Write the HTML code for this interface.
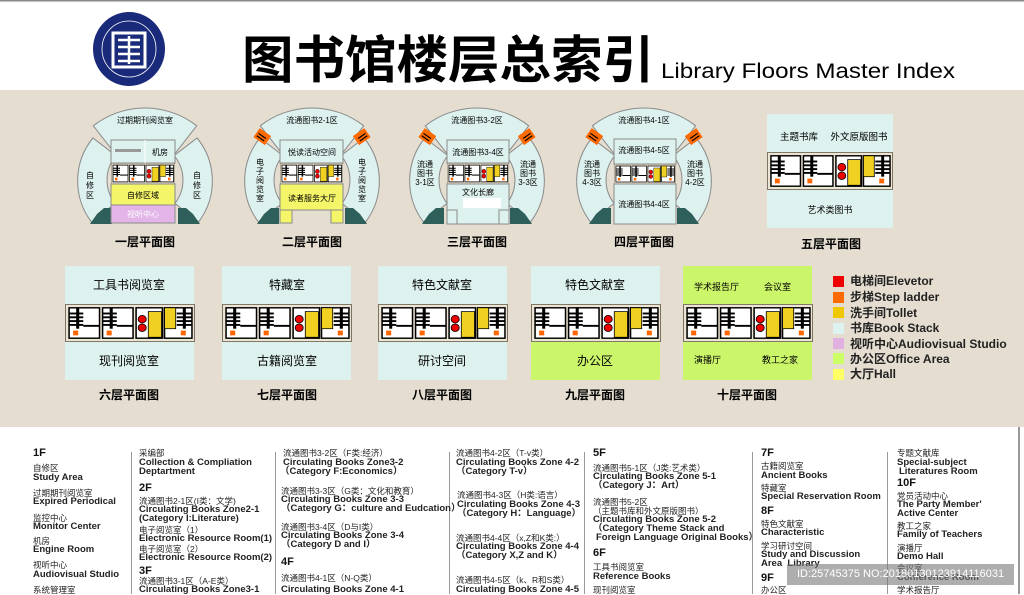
<!DOCTYPE html>
<html><head><meta charset="utf-8">
<style>
*{margin:0;padding:0}
body{width:1024px;height:594px;overflow:hidden;background:#fff;position:relative;font-family:"Liberation Sans","Noto Sans CJK SC",sans-serif}
svg text{font-family:"Liberation Sans","Noto Sans CJK SC",sans-serif}
.t{position:absolute;white-space:nowrap;font-size:8.5px;color:#222;line-height:10px}
.e{position:absolute;white-space:nowrap;font-size:9.5px;font-weight:bold;color:#222;line-height:10px}
.h{position:absolute;white-space:nowrap;font-size:11px;font-weight:bold;color:#111;line-height:11px}
.d{position:absolute;width:1px;background:#999;top:452px;height:142px}
</style></head><body>
<svg width="1024" height="594" style="position:absolute;left:0;top:0">
<defs>
<symbol id="core" viewBox="0 0 128 40" preserveAspectRatio="none">
<rect x="0.5" y="0.5" width="127" height="39" fill="#ede5d3" stroke="#7a7262"/>
<g>
<rect x="4" y="4" width="30" height="32" fill="#fff" stroke="#000" stroke-width="1.5"/>
<rect x="4" y="9" width="14" height="2" fill="#000"/><rect x="4" y="13" width="14" height="2" fill="#000"/><rect x="4" y="17" width="14" height="2" fill="#000"/><rect x="4" y="21" width="14" height="2" fill="#000"/>
<rect x="11" y="4" width="3" height="22" fill="#000"/><rect x="18" y="22" width="16" height="2" fill="#000"/>
<rect x="8" y="28" width="5" height="5" fill="#ff6600"/>
</g>
<g transform="translate(33,0)">
<rect x="4" y="4" width="30" height="32" fill="#fff" stroke="#000" stroke-width="1.5"/>
<rect x="4" y="9" width="14" height="2" fill="#000"/><rect x="4" y="13" width="14" height="2" fill="#000"/><rect x="4" y="17" width="14" height="2" fill="#000"/><rect x="4" y="21" width="14" height="2" fill="#000"/>
<rect x="11" y="4" width="3" height="22" fill="#000"/><rect x="18" y="22" width="16" height="2" fill="#000"/>
<rect x="8" y="28" width="5" height="5" fill="#ff6600"/>
</g>
<rect x="70" y="4" width="26" height="32" fill="#fff" stroke="#000" stroke-width="1.5"/>
<circle cx="76" cy="16" r="4" fill="#e00" stroke="#000" stroke-width=".8"/>
<circle cx="76" cy="25" r="4" fill="#e00" stroke="#000" stroke-width=".8"/>
<rect x="82" y="8" width="13" height="27" fill="#f0d020" stroke="#000" stroke-width=".8"/>
<rect x="98" y="4" width="27" height="32" fill="#fff" stroke="#000" stroke-width="1.5"/>
<rect x="98" y="4" width="11" height="22" fill="#f0d020" stroke="#000" stroke-width=".8"/>
<rect x="110" y="9" width="15" height="2" fill="#000"/><rect x="110" y="13" width="15" height="2" fill="#000"/><rect x="110" y="17" width="15" height="2" fill="#000"/><rect x="110" y="21" width="15" height="2" fill="#000"/>
<rect x="116" y="4" width="3" height="22" fill="#000"/>
<rect x="114" y="28" width="5" height="5" fill="#ff6600"/>
</symbol>
<g id="arcs">
<path d="M-51.7,125.8 A84,84 0 0 1 51.7,125.8 L30.8,152.6 A50,50 0 0 0 -30.8,152.6 Z" fill="#ddf1ef" stroke="#8a8a8a"/>
<path d="M-52.1,138 A68,68 0 0 0 -53.6,221.9 L-29.9,203.4 A38,38 0 0 1 -29.1,155.6 Z" fill="#ddf1ef" stroke="#8a8a8a"/>
<path d="M52.1,138 A68,68 0 0 1 53.6,221.9 L29.9,203.4 A38,38 0 0 0 29.1,155.6 Z" fill="#ddf1ef" stroke="#8a8a8a"/>
<polygon points="-41,208 -33,208 -33,224 -55,224 -48,214" fill="#2f5f5a"/>
<polygon points="41,208 33,208 33,224 55,224 48,214" fill="#2f5f5a"/>
</g>
<g id="stairs">
<g transform="translate(-50,137) rotate(35)"><rect x="-7" y="-6" width="14" height="11" fill="#ff6a00"/><path d="M-5,-1 h9 M-5,2 h9" stroke="#000" stroke-width="1.2"/></g>
<g transform="translate(50,137) rotate(-35)"><rect x="-7" y="-6" width="14" height="11" fill="#ff6a00"/><path d="M-4,-1 h9 M-4,2 h9" stroke="#000" stroke-width="1.2"/></g>
</g>
</defs>
<rect x="0" y="0" width="1024" height="1.5" fill="#888"/>
<rect x="0" y="90" width="1024" height="337" fill="#e4ddd0"/>
<!-- logo -->
<ellipse cx="129" cy="49" rx="36" ry="37" fill="#1a2a7a"/>
<ellipse cx="129" cy="49" rx="27" ry="28" fill="none" stroke="#fff" stroke-width=".8"/>
<rect x="113" y="33" width="32" height="34" fill="none" stroke="#fff" stroke-width="3"/>
<path d="M118,40 h22 M118,47 h22 M118,54 h22 M118,61 h22 M129,36 v28" stroke="#fff" stroke-width="2.5"/>
<text x="242" y="78" font-size="51" font-weight="bold" fill="#000" textLength="412" lengthAdjust="spacingAndGlyphs">图书馆楼层总索引</text>
<text x="661" y="78" font-size="21" fill="#000" textLength="294" lengthAdjust="spacingAndGlyphs">Library Floors Master Index</text>

<!-- floor 1 -->
<g transform="translate(145,0)">
<use href="#arcs"/>
<rect x="-34" y="140" width="64" height="23" fill="#ddf1ef" stroke="#8a8a8a"/>
<rect x="-30" y="149" width="26" height="3" fill="#999"/>
<line x1="0" y1="140" x2="0" y2="163" stroke="#fff"/>
<use href="#core" x="-34" y="163" width="64" height="21"/>
<rect x="-34" y="184" width="64" height="21" fill="#f5f56a" stroke="#8a8a8a"/>
<rect x="-34" y="205" width="64" height="18" fill="#e2b4e8" stroke="#8a8a8a"/>
<text x="0" y="123" font-size="8" text-anchor="middle">过期期刊阅览室</text>
<text x="15" y="155" font-size="8" text-anchor="middle">机房</text>
<text x="-2" y="198" font-size="8" text-anchor="middle">自修区域</text>
<text x="-2" y="217" font-size="8" text-anchor="middle" fill="#fff">视听中心</text>
<text x="-55" y="178" font-size="8" text-anchor="middle">自</text><text x="-55" y="188" font-size="8" text-anchor="middle">修</text><text x="-55" y="198" font-size="8" text-anchor="middle">区</text>
<text x="52" y="178" font-size="8" text-anchor="middle">自</text><text x="52" y="188" font-size="8" text-anchor="middle">修</text><text x="52" y="198" font-size="8" text-anchor="middle">区</text>
<text x="0" y="246" font-size="12" font-weight="bold" text-anchor="middle">一层平面图</text>
</g>
<!-- floor 2 -->
<g transform="translate(312,0)">
<use href="#arcs"/><use href="#stairs"/>
<rect x="-32" y="140" width="63" height="23" fill="#ddf1ef" stroke="#8a8a8a"/>
<use href="#core" x="-32" y="163" width="63" height="21"/>
<rect x="-32" y="184" width="63" height="26" fill="#f5f56a" stroke="#8a8a8a"/>
<rect x="-32" y="210" width="12" height="13" fill="#f5f56a" stroke="#8a8a8a"/>
<rect x="19" y="210" width="12" height="13" fill="#f5f56a" stroke="#8a8a8a"/>
<text x="0" y="123" font-size="8" text-anchor="middle">流通图书2-1区</text>
<text x="0" y="155" font-size="8" text-anchor="middle">悦读活动空间</text>
<text x="0" y="201" font-size="8" text-anchor="middle">读者服务大厅</text>
<g font-size="8" text-anchor="middle"><text x="-52" y="165">电</text><text x="-52" y="174">子</text><text x="-52" y="183">阅</text><text x="-52" y="192">览</text><text x="-52" y="201">室</text>
<text x="50" y="165">电</text><text x="50" y="174">子</text><text x="50" y="183">阅</text><text x="50" y="192">览</text><text x="50" y="201">室</text></g>
<text x="0" y="246" font-size="12" font-weight="bold" text-anchor="middle">二层平面图</text>
</g>
<!-- floor 3 -->
<g transform="translate(477,0)">
<use href="#arcs"/><use href="#stairs"/>
<rect x="-30" y="140" width="62" height="23" fill="#ddf1ef" stroke="#8a8a8a"/>
<use href="#core" x="-30" y="163" width="62" height="21"/>
<rect x="-30" y="184" width="62" height="40" fill="#ddf1ef" stroke="#8a8a8a"/>
<rect x="-14" y="198" width="38" height="10" fill="#fff"/>
<rect x="-30" y="210" width="10" height="14" fill="#ddf1ef" stroke="#8a8a8a"/><rect x="22" y="210" width="10" height="14" fill="#ddf1ef" stroke="#8a8a8a"/>
<text x="0" y="123" font-size="8" text-anchor="middle">流通图书3-2区</text>
<text x="1" y="155" font-size="8" text-anchor="middle">流通图书3-4区</text>
<text x="1" y="195" font-size="8" text-anchor="middle">文化长廊</text>
<g font-size="8" text-anchor="middle"><text x="-52" y="167">流通</text><text x="-52" y="176">图书</text><text x="-52" y="185">3-1区</text>
<text x="51" y="167">流通</text><text x="51" y="176">图书</text><text x="51" y="185">3-3区</text></g>
<text x="0" y="246" font-size="12" font-weight="bold" text-anchor="middle">三层平面图</text>
</g>
<!-- floor 4 -->
<g transform="translate(644,0)">
<use href="#arcs"/><use href="#stairs"/>
<rect x="-30" y="139" width="62" height="25" fill="#ddf1ef" stroke="#8a8a8a"/>
<use href="#core" x="-30" y="164" width="62" height="20"/>
<rect x="-30" y="184" width="62" height="40" fill="#ddf1ef" stroke="#8a8a8a"/>
<text x="0" y="123" font-size="8" text-anchor="middle">流通图书4-1区</text>
<text x="0" y="153" font-size="8" text-anchor="middle">流通图书4-5区</text>
<text x="0" y="207" font-size="8" text-anchor="middle">流通图书4-4区</text>
<g font-size="8" text-anchor="middle"><text x="-52" y="167">流通</text><text x="-52" y="176">图书</text><text x="-52" y="185">4-3区</text>
<text x="51" y="167">流通</text><text x="51" y="176">图书</text><text x="51" y="185">4-2区</text></g>
<text x="0" y="246" font-size="12" font-weight="bold" text-anchor="middle">四层平面图</text>
</g>
<!-- floor 5 -->
<rect x="767" y="114" width="126" height="114" fill="#ddf1ef"/>
<use href="#core" x="767" y="152" width="126" height="38"/>
<text x="799" y="140" font-size="9.5" text-anchor="middle">主题书库</text>
<text x="859" y="140" font-size="9.5" text-anchor="middle">外文原版图书</text>
<text x="830" y="213" font-size="9" text-anchor="middle">艺术类图书</text>
<text x="831" y="248" font-size="12" font-weight="bold" text-anchor="middle">五层平面图</text>

<!-- row 2 -->
<g font-size="12" text-anchor="middle">
<rect x="65" y="266" width="129" height="114" fill="#ddf1ef"/>
<use href="#core" x="65" y="304" width="130" height="38"/>
<text x="129" y="289">工具书阅览室</text><text x="129" y="365">现刊阅览室</text>
<text x="129" y="399" font-weight="bold">六层平面图</text>

<rect x="222" y="266" width="129" height="114" fill="#ddf1ef"/>
<use href="#core" x="222" y="304" width="130" height="38"/>
<text x="287" y="289">特藏室</text><text x="287" y="365">古籍阅览室</text>
<text x="287" y="399" font-weight="bold">七层平面图</text>

<rect x="378" y="266" width="129" height="114" fill="#ddf1ef"/>
<use href="#core" x="378" y="304" width="130" height="38"/>
<text x="442" y="289">特色文献室</text><text x="442" y="365">研讨空间</text>
<text x="442" y="399" font-weight="bold">八层平面图</text>

<rect x="531" y="266" width="129" height="38" fill="#ddf1ef"/>
<rect x="531" y="342" width="129" height="38" fill="#ccf66a"/>
<use href="#core" x="531" y="304" width="130" height="38"/>
<text x="595" y="289">特色文献室</text><text x="595" y="365">办公区</text>
<text x="595" y="399" font-weight="bold">九层平面图</text>

<rect x="683" y="266" width="129" height="114" fill="#ccf66a"/>
<use href="#core" x="683" y="304" width="130" height="38"/>
<text x="747" y="399" font-weight="bold">十层平面图</text>
</g>
<g font-size="9">
<text x="694" y="290">学术报告厅</text><text x="764" y="290">会议室</text>
<text x="694" y="363">演播厅</text><text x="762" y="363">教工之家</text>
</g>
<!-- legend -->
<g font-size="12" font-weight="bold" fill="#222">
<rect x="833" y="276" width="11" height="11" fill="#ee0000"/><text x="850" y="285">电梯间Elevetor</text>
<rect x="833" y="292" width="11" height="11" fill="#ff6a00"/><text x="850" y="301">步梯Step ladder</text>
<rect x="833" y="307" width="11" height="11" fill="#f0c800"/><text x="850" y="317">洗手间Tollet</text>
<rect x="833" y="323" width="11" height="11" fill="#ddf3f1"/><text x="850" y="332">书库Book Stack</text>
<rect x="833" y="338" width="11" height="11" fill="#e0b0e0"/><text x="850" y="348">视听中心Audiovisual Studio</text>
<rect x="833" y="353" width="11" height="11" fill="#ccff66"/><text x="850" y="363">办公区Office Area</text>
<rect x="833" y="369" width="11" height="11" fill="#ffff66"/><text x="850" y="378">大厅Hall</text>
</g>
<rect x="1018" y="427" width="2" height="167" fill="#999"/>
</svg>

<div class="d" style="left:131px"></div><div class="d" style="left:275px"></div><div class="d" style="left:449px"></div><div class="d" style="left:584px"></div><div class="d" style="left:752px"></div><div class="d" style="left:887px"></div>

<!-- col1 -->
<div class="h" style="left:33px;top:448px">1F</div>
<div class="t" style="left:33px;top:463px">自修区</div><div class="e" style="left:33px;top:473px">Study Area</div>
<div class="t" style="left:33px;top:488px">过期期刊阅览室</div><div class="e" style="left:33px;top:497px">Expired Periodical</div>
<div class="t" style="left:33px;top:513px">监控中心</div><div class="e" style="left:33px;top:522px">Monitor Center</div>
<div class="t" style="left:33px;top:536px">机房</div><div class="e" style="left:33px;top:545px">Engine Room</div>
<div class="t" style="left:33px;top:560px">视听中心</div><div class="e" style="left:33px;top:570px">Audiovisual Studio</div>
<div class="t" style="left:33px;top:585px">系统管理室</div>
<!-- col2 -->
<div class="t" style="left:139px;top:448px">采编部</div>
<div class="e" style="left:139px;top:458px">Collection &amp; Compliation</div><div class="e" style="left:139px;top:467px">Deptartment</div>
<div class="h" style="left:139px;top:483px">2F</div>
<div class="t" style="left:139px;top:496px">流通图书2-1区(I类：文学)</div>
<div class="e" style="left:139px;top:505px">Circulating Books Zone2-1</div>
<div class="e" style="left:139px;top:514px">(Category I:Literature)</div>
<div class="t" style="left:139px;top:525px">电子阅览室（1）</div><div class="e" style="left:139px;top:534px">Electronic Resource Room(1)</div>
<div class="t" style="left:139px;top:544px">电子阅览室（2）</div><div class="e" style="left:139px;top:553px">Electronic Resource Room(2)</div>
<div class="h" style="left:139px;top:566px">3F</div>
<div class="t" style="left:139px;top:576px">流通图书3-1区（A-E类）</div><div class="e" style="left:139px;top:585px">Circulating Books Zone3-1</div>
<!-- col3 -->
<div class="t" style="left:283px;top:448px">流通图书3-2区（F类:经济）</div>
<div class="e" style="left:283px;top:458px">Circulating Books Zone3-2</div><div class="e" style="left:280px;top:467px">（Category F:Economics）</div>
<div class="t" style="left:281px;top:486px">流通图书3-3区（G类：文化和教育）</div>
<div class="e" style="left:281px;top:495px">Circulating Books Zone 3-3</div><div class="e" style="left:281px;top:504px">（Category G：culture and Eudcation）</div>
<div class="t" style="left:281px;top:522px">流通图书3-4区（D与I类）</div>
<div class="e" style="left:281px;top:531px">Circulating Books Zone 3-4</div><div class="e" style="left:281px;top:540px">（Category D and I）</div>
<div class="h" style="left:281px;top:557px">4F</div>
<div class="t" style="left:281px;top:573px">流通图书4-1区（N-Q类）</div><div class="e" style="left:281px;top:585px">Circulating Books Zone 4-1</div>
<!-- col4 -->
<div class="t" style="left:456px;top:448px">流通图书4-2区（T-v类）</div>
<div class="e" style="left:456px;top:458px">Circulating Books Zone 4-2</div><div class="e" style="left:456px;top:467px">（Category T-v）</div>
<div class="t" style="left:457px;top:490px">流通图书4-3区（H类:语言）</div>
<div class="e" style="left:457px;top:500px">Circulating Books Zone 4-3</div><div class="e" style="left:457px;top:509px">（Category H：Language）</div>
<div class="t" style="left:456px;top:533px">流通图书4-4区（x,Z和K类:）</div>
<div class="e" style="left:456px;top:542px">Circulating Books Zone 4-4</div><div class="e" style="left:456px;top:551px">（Category X,Z and K）</div>
<div class="t" style="left:456px;top:575px">流通图书4-5区（k、R和S类）</div><div class="e" style="left:456px;top:585px">Circulating Books Zone 4-5</div>
<!-- col5 -->
<div class="h" style="left:593px;top:448px">5F</div>
<div class="t" style="left:593px;top:463px">流通图书5-1区（J类:艺术类）</div>
<div class="e" style="left:593px;top:472px">Circulating Books Zone 5-1</div><div class="e" style="left:593px;top:481px">（Category J：Art）</div>
<div class="t" style="left:593px;top:497px">流通图书5-2区</div>
<div class="t" style="left:593px;top:506px">（主题书库和外文原版图书）</div>
<div class="e" style="left:593px;top:515px">Circulating Books Zone 5-2</div>
<div class="e" style="left:593px;top:524px">（Category Theme Stack and</div>
<div class="e" style="left:596px;top:533px">Foreign Language Original Books）</div>
<div class="h" style="left:593px;top:548px">6F</div>
<div class="t" style="left:593px;top:562px">工具书阅览室</div><div class="e" style="left:593px;top:572px">Reference Books</div>
<div class="t" style="left:593px;top:585px">现刊阅览室</div>
<!-- col6 -->
<div class="h" style="left:761px;top:448px">7F</div>
<div class="t" style="left:761px;top:461px">古籍阅览室</div><div class="e" style="left:761px;top:471px">Ancient Books</div>
<div class="t" style="left:761px;top:483px">特藏室</div><div class="e" style="left:761px;top:492px">Special Reservation Room</div>
<div class="h" style="left:761px;top:506px">8F</div>
<div class="t" style="left:761px;top:519px">特色文献室</div><div class="e" style="left:761px;top:528px">Characteristic</div>
<div class="t" style="left:761px;top:541px">学习研讨空间</div><div class="e" style="left:761px;top:550px">Study and Discussion</div><div class="e" style="left:761px;top:559px">Area&nbsp; Library</div>
<div class="h" style="left:761px;top:573px">9F</div>
<div class="t" style="left:761px;top:585px">办公区</div>
<!-- col7 -->
<div class="t" style="left:897px;top:448px">专题文献库</div>
<div class="e" style="left:897px;top:458px">Special-subject</div><div class="e" style="left:899px;top:467px">Literatures Room</div>
<div class="h" style="left:897px;top:478px">10F</div>
<div class="t" style="left:897px;top:491px">党员活动中心</div>
<div class="e" style="left:897px;top:500px">The Party Member'</div><div class="e" style="left:897px;top:509px">Active Center</div>
<div class="t" style="left:897px;top:521px">教工之家</div><div class="e" style="left:897px;top:530px">Family of Teachers</div>
<div class="t" style="left:897px;top:543px">演播厅</div><div class="e" style="left:897px;top:552px">Demo Hall</div>
<div class="t" style="left:897px;top:563px">会议室</div><div class="e" style="left:897px;top:573px">Conference Room</div>
<div class="t" style="left:897px;top:585px">学术报告厅</div>
<div style="position:absolute;left:787px;top:564px;width:227px;height:21px;background:rgba(120,120,120,.6);color:#fff;font-size:11px;line-height:21px;padding-left:10px;box-sizing:border-box">ID:25745375 NO:20180130123914116031</div>
</body></html>
